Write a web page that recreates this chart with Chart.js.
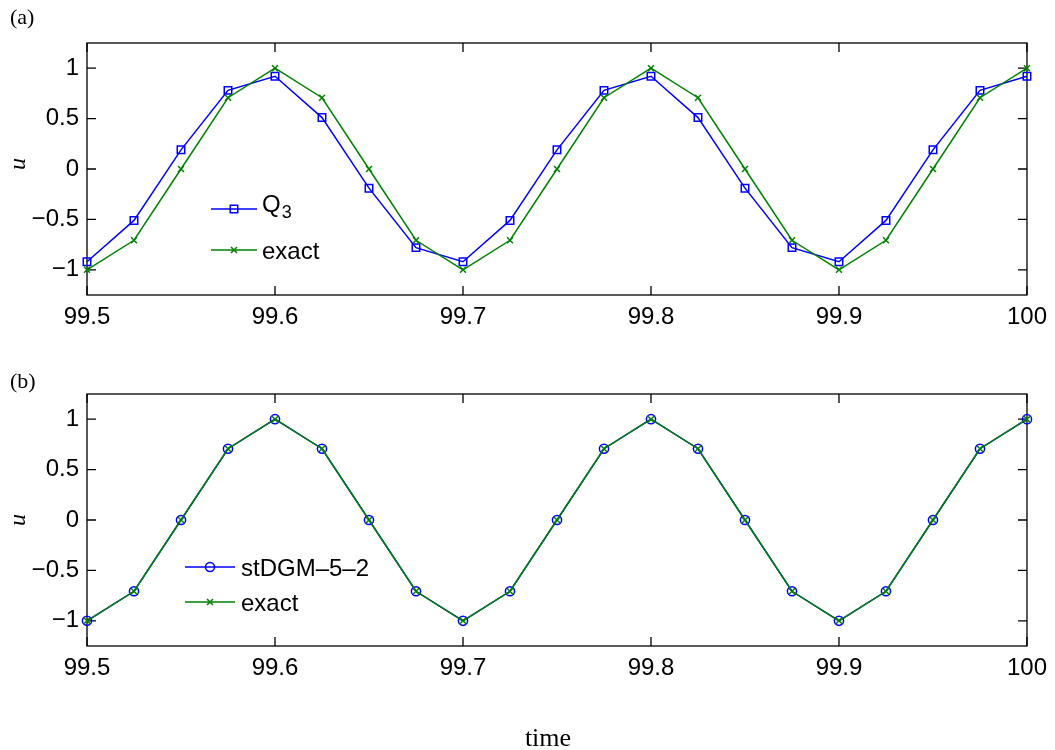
<!DOCTYPE html>
<html>
<head>
<meta charset="utf-8">
<script src="https://cdn.jsdelivr.net/npm/chart.js@4.4.0/dist/chart.umd.min.js"></script>
<style>
  body { margin: 0; background: #fff; width: 1055px; height: 750px; position: relative; overflow: hidden; }
  canvas { position: absolute; left: 0; }
</style>
</head>
<body>
<canvas id="top" width="1055" height="345" style="top:0;width:1055px;height:345px"></canvas>
<canvas id="bot" width="1055" height="399" style="top:351px;width:1055px;height:399px"></canvas>
<script>
// sample times
const times = [99.5, 99.525, 99.55, 99.575, 99.6, 99.625, 99.65, 99.675, 99.7, 99.725, 99.75,
               99.775, 99.8, 99.825, 99.85, 99.875, 99.9, 99.925, 99.95, 99.975, 100];
// exact solution at the sample times
const exactVals = [-1, -0.707, 0, 0.707, 1, 0.707, 0, -0.707, -1, -0.707, 0,
                   0.707, 1, 0.707, 0, -0.707, -1, -0.707, 0, 0.707, 1];
// Q3 scheme (phase-shifted, damped)
const q3Vals = [-0.92, -0.51, 0.19, 0.78, 0.92, 0.51, -0.19, -0.78, -0.92, -0.51, 0.19,
                0.78, 0.92, 0.51, -0.19, -0.78, -0.92, -0.51, 0.19, 0.78, 0.92];
// space-time DG, sits on the exact curve
const stdgmVals = [-1, -0.707, 0, 0.707, 1, 0.707, 0, -0.707, -1, -0.707, 0,
                   0.707, 1, 0.707, 0, -0.707, -1, -0.707, 0, 0.707, 1];
const xTicks = [99.5, 99.6, 99.7, 99.8, 99.9, 100];
const yTicks = [-1, -0.5, 0, 0.5, 1];

const BLUE = '#0000ff';
const GREEN = '#008000';
const SANS = '"Liberation Sans", Arial, sans-serif';
const SERIF = '"Liberation Serif", "Times New Roman", serif';

function pts(vals) {
  return times.map((t, i) => ({ x: t, y: vals[i] }));
}

function series(label, vals, color, style, radius, order) {
  return {
    label, data: pts(vals), order,
    borderColor: color, borderWidth: 1.5, tension: 0, clip: false,
    pointStyle: style, pointRadius: radius, pointHoverRadius: radius,
    pointBorderColor: color, pointBackgroundColor: 'rgba(0,0,0,0)', pointBorderWidth: 1.5
  };
}

function marker(ctx, style, x, y) {
  ctx.beginPath();
  if (style === 'rect') {
    ctx.rect(x - 3.75, y - 3.75, 7.5, 7.5);
  } else if (style === 'circle') {
    ctx.arc(x, y, 4.5, 0, Math.PI * 2);
  } else {
    ctx.moveTo(x - 3, y - 3); ctx.lineTo(x + 3, y + 3);
    ctx.moveTo(x - 3, y + 3); ctx.lineTo(x + 3, y - 3);
  }
  ctx.stroke();
}

// box, inward ticks on all four sides, panel tag and axis labels
const framePlugin = {
  id: 'frame',
  beforeDatasetsDraw(chart, args, opts) {
    const { ctx, chartArea: a, scales: { x, y } } = chart;
    ctx.save();
    ctx.strokeStyle = '#000';
    ctx.lineWidth = 1.3;
    ctx.strokeRect(a.left, a.top, a.right - a.left, a.bottom - a.top);
    ctx.beginPath();
    xTicks.forEach(v => {
      const px = x.getPixelForValue(v);
      ctx.moveTo(px, a.bottom); ctx.lineTo(px, a.bottom - 9);
      ctx.moveTo(px, a.top); ctx.lineTo(px, a.top + 9);
    });
    yTicks.forEach(v => {
      const py = y.getPixelForValue(v);
      ctx.moveTo(a.left, py); ctx.lineTo(a.left + 9, py);
      ctx.moveTo(a.right, py); ctx.lineTo(a.right - 9, py);
    });
    ctx.stroke();

    ctx.fillStyle = '#000';
    ctx.font = '22px ' + SERIF;
    ctx.textAlign = 'left';
    ctx.textBaseline = 'alphabetic';
    ctx.fillText(opts.tag, 10, opts.tagY);

    ctx.save();
    ctx.translate(25, opts.uY);
    ctx.rotate(-Math.PI / 2);
    ctx.font = 'italic 24px ' + SERIF;
    ctx.textAlign = 'center';
    ctx.fillText('u', 0, 0);
    ctx.restore();

    if (opts.xTitle) {
      ctx.font = '26px ' + SERIF;
      ctx.textAlign = 'center';
      ctx.fillText(opts.xTitle, 548, opts.xTitleY);
    }
    ctx.restore();
  }
};

// legend drawn inside the axes, no box
const keyPlugin = {
  id: 'key',
  afterDatasetsDraw(chart, args, opts) {
    const ctx = chart.ctx;
    ctx.save();
    opts.rows.forEach(r => {
      const ds = chart.data.datasets[r.ds];
      ctx.strokeStyle = ds.borderColor;
      ctx.lineWidth = 1.5;
      ctx.beginPath();
      ctx.moveTo(opts.x0, r.y); ctx.lineTo(opts.x1, r.y);
      ctx.stroke();
      marker(ctx, ds.pointStyle, (opts.x0 + opts.x1) / 2, r.y);
      ctx.fillStyle = '#000';
      ctx.textAlign = 'left';
      ctx.textBaseline = 'alphabetic';
      ctx.font = '24px ' + SANS;
      ctx.fillText(r.text, opts.tx, r.y + r.dy);
      if (r.sub) {
        const w = ctx.measureText(r.text).width;
        ctx.font = '18px ' + SANS;
        ctx.fillText(r.sub, opts.tx + w + 1, r.y + r.dy + 6);
      }
    });
    ctx.restore();
  }
};

function makeChart(id, datasets, xAxisH, frame, key) {
  return new Chart(document.getElementById(id), {
    type: 'line',
    data: { datasets },
    options: {
      responsive: false,
      animation: false,
      devicePixelRatio: 1,
      layout: { padding: { left: 0, top: 43, right: 23, bottom: 0 } },
      plugins: {
        legend: { display: false },
        tooltip: { enabled: false },
        frame,
        key
      },
      scales: {
        x: {
          type: 'linear', min: 99.5, max: 100,
          grid: { display: false, drawTicks: false },
          border: { display: false },
          ticks: {
            color: '#000', font: { family: SANS, size: 24 }, padding: 8,
            maxRotation: 0, autoSkip: false,
            callback: v => String(v)
          },
          afterBuildTicks: s => { s.ticks = xTicks.map(v => ({ value: v })); },
          afterFit: s => { s.height = xAxisH; }
        },
        y: {
          type: 'linear', min: -1.25, max: 1.25,
          grid: { display: false, drawTicks: false },
          border: { display: false },
          ticks: {
            color: '#000', font: { family: SANS, size: 24 }, padding: 8,
            callback: v => (v < 0 ? '\u2212' + String(-v) : String(v))
          },
          afterBuildTicks: s => { s.ticks = yTicks.map(v => ({ value: v })); },
          afterFit: s => { s.width = 87; }
        }
      }
    },
    plugins: [framePlugin, keyPlugin]
  });
}

makeChart('top', [
  series('Q3', q3Vals, BLUE, 'rect', 5.3, 1),
  series('exact', exactVals, GREEN, 'crossRot', 4.2, 0)
], 50,
{ tag: '(a)', tagY: 24, uY: 164 },
{ x0: 211, x1: 257, tx: 262, rows: [
  { ds: 0, y: 209, text: 'Q', sub: '3', dy: 3 },
  { ds: 1, y: 250, text: 'exact', dy: 8.5 }
] });

makeChart('bot', [
  series('stDGM-5-2', stdgmVals, BLUE, 'circle', 4.6, 1),
  series('exact', exactVals, GREEN, 'crossRot', 4.2, 0)
], 104,
{ tag: '(b)', tagY: 37, uY: 169, xTitle: 'time', xTitleY: 395 },
{ x0: 185, x1: 235, tx: 241, rows: [
  { ds: 0, y: 216, text: 'stDGM\u20135\u20132', dy: 8.5 },
  { ds: 1, y: 251, text: 'exact', dy: 8.5 }
] });
</script>
</body>
</html>
